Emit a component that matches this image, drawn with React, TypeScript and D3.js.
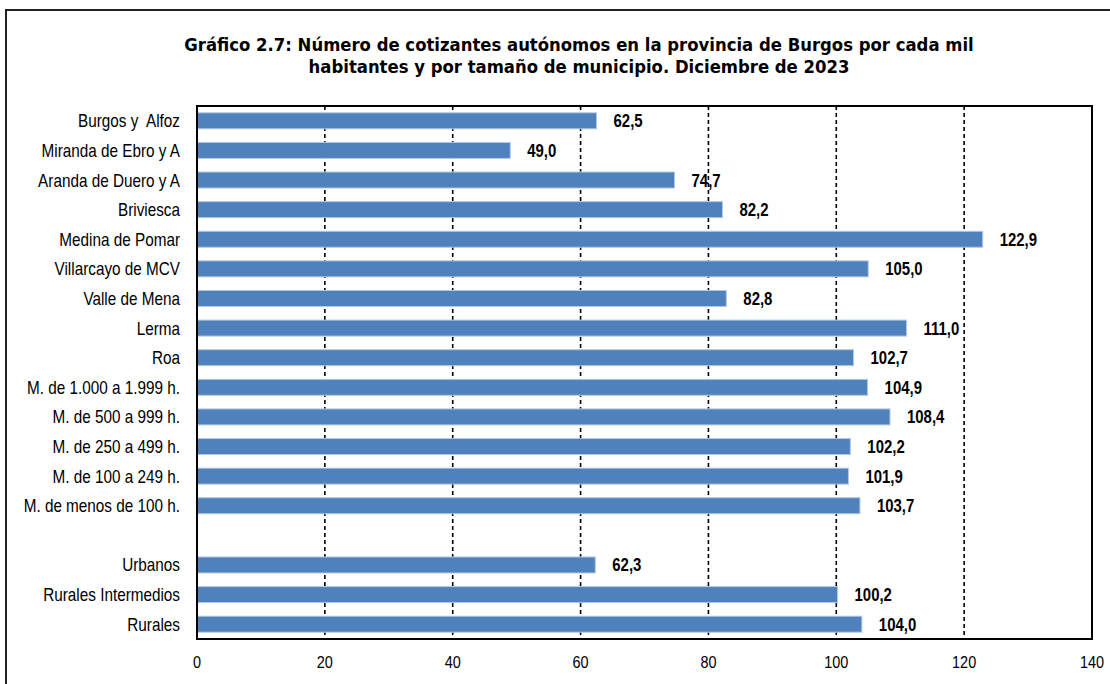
import * as d3 from "d3";

const categories = [
  "Burgos y  Alfoz",
  "Miranda de Ebro y A",
  "Aranda de Duero y A",
  "Briviesca",
  "Medina de Pomar",
  "Villarcayo de MCV",
  "Valle de Mena",
  "Lerma",
  "Roa",
  "M. de 1.000 a 1.999 h.",
  "M. de 500 a 999 h.",
  "M. de 250 a 499 h.",
  "M. de 100 a 249 h.",
  "M. de menos de 100 h.",
  "",
  "Urbanos",
  "Rurales Intermedios",
  "Rurales",
];
const values: (number | null)[] = [
  62.5, 49.0, 74.7, 82.2, 122.9, 105.0, 82.8, 111.0, 102.7, 104.9, 108.4, 102.2,
  101.9, 103.7, null, 62.3, 100.2, 104.0,
];
const xTicks = [0, 20, 40, 60, 80, 100, 120, 140];
const titleLines = [
  "Gráfico 2.7: Número de cotizantes autónomos en la provincia de Burgos por cada mil",
  "habitantes y por tamaño de municipio. Diciembre de 2023",
];

const width = 1110;
const height = 684;
const marginLeft = 197;
const marginRight = 18;
const marginTop = 106;
const marginBottom = 45;

// no Arial Narrow available: squeeze Liberation Sans horizontally instead
const sans = "'Liberation Sans', Arial, sans-serif";
const squeeze = (x: number, y: number, k: number) => `translate(${x},${y}) scale(${k},1)`;

export default function App() {
  const keys = categories.map((c, i) => `${i}`);
  const x = d3.scaleLinear().domain([0, 140]).range([marginLeft, width - marginRight]);
  const y = d3
    .scaleBand()
    .domain(keys)
    .range([marginTop, height - marginBottom])
    .paddingInner(0.46)
    .paddingOuter(0.23);
  const fmt = (v: number) => v.toFixed(1).replace(".", ",");
  const plotBottom = height - marginBottom;
  const mid = (i: number) => (y(keys[i]) as number) + y.bandwidth() / 2;

  return (
    <div style={{ position: "absolute", left: 0, top: 0 }}>
      <svg width={width} height={height} style={{ display: "block", background: "#fff" }}>
        <rect x={6} y={10} width={width + 20} height={height + 20} fill="#fff" stroke="#222" strokeWidth={2} />
        {titleLines.map((t, i) => (
          <text
            key={i}
            transform={squeeze(579, 51 + i * 22, 0.97)}
            textAnchor="middle"
            fontFamily="'DejaVu Sans', Verdana, sans-serif"
            fontWeight="bold"
            fontSize={17}
          >
            {t}
          </text>
        ))}
        {/* gridlines */}
        {xTicks.slice(1, -1).map((t) => (
          <line
            key={t}
            x1={x(t)}
            x2={x(t)}
            y1={marginTop}
            y2={plotBottom}
            stroke="#000"
            strokeWidth={1.6}
            strokeDasharray="4,3"
          />
        ))}
        {/* bars */}
        {values.map((v, i) =>
          v == null ? null : (
            <g key={i}>
              <rect
                x={x(0)}
                y={y(keys[i])}
                width={x(v) - x(0)}
                height={y.bandwidth()}
                fill="#4F81BD"
                stroke="#B3C9E3"
                strokeWidth={1}
              />
              <text
                transform={squeeze(x(v) + 17, mid(i), 0.83)}
                dy="0.36em"
                fontFamily={sans}
                fontWeight="bold"
                fontSize={18}
              >
                {fmt(v)}
              </text>
            </g>
          )
        )}
        {/* category labels */}
        {categories.map((c, i) => (
          <text
            key={i}
            transform={squeeze(marginLeft - 17, mid(i), 0.85)}
            dy="0.36em"
            textAnchor="end"
            fontFamily={sans}
            fontSize={18}
            style={{ whiteSpace: "pre" }}
          >
            {c}
          </text>
        ))}
        {/* plot frame */}
        <rect
          x={marginLeft}
          y={marginTop}
          width={x(140) - marginLeft}
          height={plotBottom - marginTop}
          fill="none"
          stroke="#000"
          strokeWidth={2}
        />
        {xTicks.map((t) => (
          <text
            key={t}
            transform={squeeze(x(t), 668, 0.85)}
            textAnchor="middle"
            fontFamily={sans}
            fontSize={17}
          >
            {t}
          </text>
        ))}
      </svg>
    </div>
  );
}
